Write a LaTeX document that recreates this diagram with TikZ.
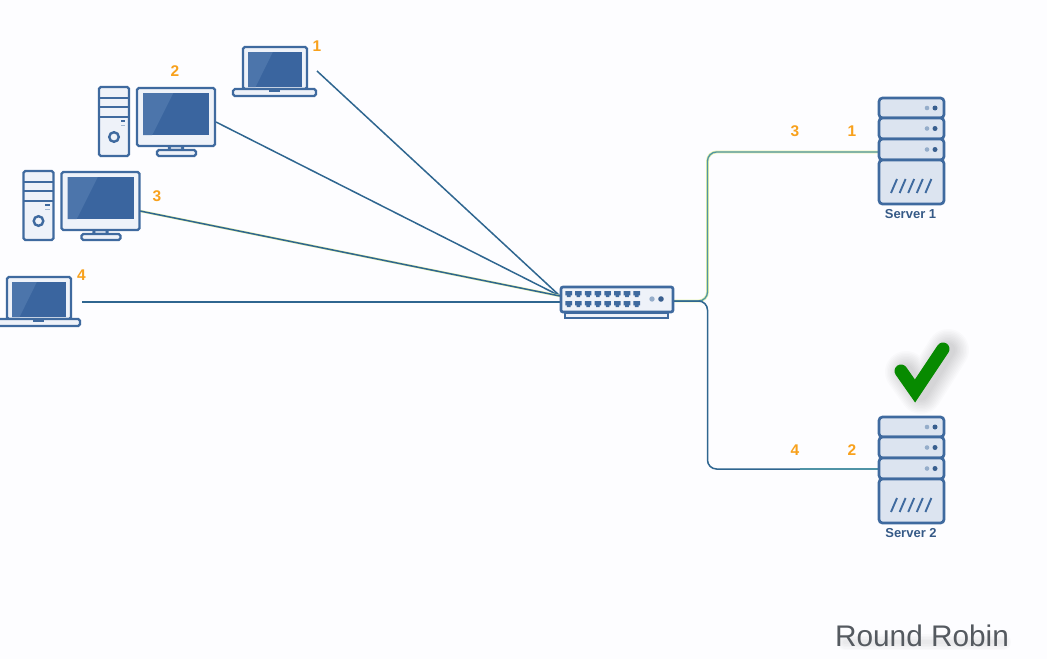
\documentclass[tikz,border=0pt]{standalone}
\usepackage{fontspec}
\setmainfont{Liberation Sans}
\definecolor{paper}{HTML}{FDFDFF}
\definecolor{outline}{HTML}{3F6A9F}
\definecolor{body}{HTML}{EEF2F9}
\definecolor{rack}{HTML}{DCE4F0}
\definecolor{screen}{HTML}{3A659F}
\definecolor{glare}{HTML}{4C75AB}
\definecolor{link}{HTML}{2F6690}
\definecolor{tealink}{HTML}{4F93A6}
\definecolor{halo}{HTML}{E4F2A8}
\definecolor{tag}{HTML}{F8A11C}
\definecolor{tick}{HTML}{078A00}
\definecolor{caption}{HTML}{555A60}
\tikzset{
  x=1pt, y=-1pt,
  shell/.style={draw=outline, line width=2.2pt, fill=body, rounded corners=1.8pt},
  unit/.style={draw=outline, line width=2.7pt, fill=rack, rounded corners=3.5pt},
  wire/.style={draw=link, line width=1.5pt},
  tagtext/.style={text=tag, font=\bfseries\fontsize{15.5}{15.5}\selectfont, inner sep=0pt},
  srvtext/.style={text=outline!85!black, font=\bfseries\fontsize{13}{13}\selectfont, inner sep=0pt},
  captext/.style={text=caption, inner sep=0pt, font=\fontsize{29.8}{30}\selectfont},
  % flat display panel with a lighter diagonal band on its left
  pics/panel/.style args={#1/#2/#3/#4}{code={
    \fill[screen] (#1,#2) rectangle (#3,#4);
    \fill[glare] (#1,#2) -- ({#1+0.46*(#3-#1)},#2) -- ({#1+0.14*(#3-#1)},#4) -- (#1,#4) -- cycle;
  }},
  pics/laptop/.style={code={
    \draw[shell] (10,0) rectangle (74,42);
    \pic {panel={15/5/69/40}};
    \draw[shell] (0,42) -- (83,42) -- (83,49) -- (0,49) -- cycle;
    \fill[outline] (36,42) rectangle (47,45);
  }},
  pics/desktop/.style={code={
    % tower
    \draw[shell] (0,0) rectangle (30,69);
    \draw[outline, line width=2.4pt] (0,11) -- (30,11) (0,20) -- (30,20) (0,30) -- (30,30);
    \draw[outline, line width=2.4pt, fill=body] (15,50) circle (4.8);
    \fill[outline] (21.5,33) rectangle (26,34.8);
    \fill[outline!50] (21.5,37.5) rectangle (26,39.2);
    % monitor
    \draw[shell] (70,59) rectangle (84,63);
    \draw[shell] (58,63) rectangle (97,69);
    \draw[shell] (38,1) rectangle (116,59);
    \pic {panel={44/6/110/48}};
  }},
  pics/serverrack/.style={code={
    \foreach \top/\bot in {0/20,20/41,41/62}{
      \draw[unit] (0,\top) rectangle (65,\bot);
      \fill[outline!55] (48,{(\top+\bot)/2}) circle (2.3);
      \fill[outline!90!black] (56,{(\top+\bot)/2}) circle (2.5);
    }
    \draw[unit] (0,62) rectangle (65,106);
    \foreach \dx in {0,8.6,17.2,25.8,34.4}
      \draw[outline, line width=1.9pt] (12+\dx,95) -- (18+\dx,81);
  }},
  pics/switchbox/.style={code={
    \draw[outline, line width=2.4pt, fill=body] (4,26) rectangle (107,31);
    \draw[outline, line width=2.7pt, fill=body, rounded corners=2pt] (0,0) rectangle (112,25);
    \foreach \col in {0,...,7}
      \foreach \row in {7,17}
        \fill[outline] ({4.4+\col*9.72},\row-2.8) -- ++(6.6,0) -- ++(0,4.2) -- ++(-1.5,0)
          -- ++(0,1.8) -- ++(-3.6,0) -- ++(0,-1.8) -- ++(-1.5,0) -- cycle;
    \fill[outline!55] (91,12) circle (2.7);
    \fill[outline!90!black] (100,12) circle (2.8);
  }},
}
\begin{document}
\begin{tikzpicture}
\useasboundingbox (0,0) rectangle (1047,659);
\fill[paper] (0,0) rectangle (1047,659);

% connector end points
\coordinate (p1) at (317,71);
\coordinate (p2) at (216,122);
\coordinate (p3) at (140,211);
\coordinate (p4) at (82,302);
\coordinate (hubA) at (560,296);
\coordinate (hubB) at (560,302);
\coordinate (hubOut) at (674,301);
\coordinate (bendUp) at (707.5,152);
\coordinate (bendDown) at (707.5,469);
\coordinate (s1port) at (879,152);
\coordinate (s2port) at (879,469);
\coordinate (s2tail) at (800,469);

% client links
\draw[wire] (p1) -- (hubA);
\draw[wire] (p2) -- (hubA);
\draw[halo, line width=2.4pt] (p3) -- (hubA);
\draw[wire] (p3) -- (hubA);
\draw[wire] (p4) -- (hubB);

% server links
\draw[halo, line width=2.8pt, rounded corners=9pt] (hubOut) -| (bendUp) -- (s1port);
\draw[draw=tealink, line width=1.3pt, rounded corners=9pt] (hubOut) -| (bendUp) -- (s1port);
\draw[wire, rounded corners=9pt] (hubOut) -| (bendDown) -- (s2port);
\draw[halo, line width=2.8pt] (s2tail) -- (s2port);
\draw[draw=tealink, line width=1.3pt] (s2tail) -- (s2port);

% clients
\pic at (233,47) {laptop};
\pic at (99,87) {desktop};
\pic at (23.5,171) {desktop};
\pic at (-3,277) {laptop};

% switch and servers
\pic at (561,287) {switchbox};
\pic at (879,98) {serverrack};
\pic at (879,417) {serverrack};

\node[srvtext] (s1) at (910.5,214) {Server 1};
\node[srvtext] (s2) at (911,533) {Server 2};

% request numbers
\node[tagtext] (t1) at (317,46) {1};
\node[tagtext] (t2) at (175,71) {2};
\node[tagtext] (t3) at (157,196) {3};
\node[tagtext] (t4) at (81.5,275) {4};
\node[tagtext] (q3) at (795,131) {3};
\node[tagtext] (q1) at (852,131) {1};
\node[tagtext] (q4) at (795,450) {4};
\node[tagtext] (q2) at (852,450) {2};

% soft shadow under the check mark
\foreach \w in {42,39,...,15}
  \draw[black, opacity=0.014, line width=\w pt, line cap=round, line join=round]
    (906,372) -- (921,393) -- (948,350);
% check mark
\draw[tick, line width=13pt, line cap=round, line join=miter]
  (901,371) -- (915,391) -- (943,349);

% blurred shadow beneath the caption
\foreach \w in {16,13,...,4}
  \draw[black, opacity=0.016, line width=\w pt, line cap=round]
    (845,642) -- (1003,642);
\node[captext] (cap) at (922,636) {Round Robin};
\end{tikzpicture}
\end{document}
